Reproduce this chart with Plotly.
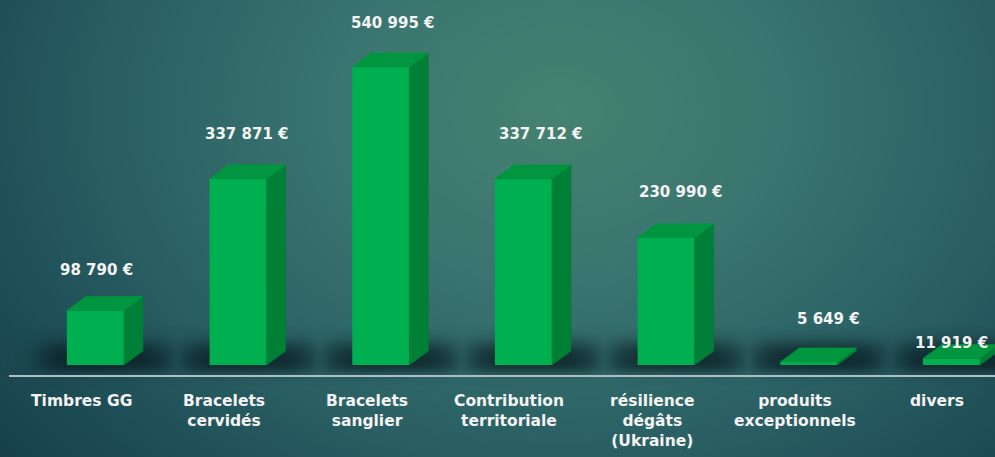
import numpy as np
import plotly.graph_objects as go

# ---------------- data ----------------
categories = ["Timbres GG", "Bracelets<br>cervidés", "Bracelets<br>sanglier",
              "Contribution<br>territoriale", "résilience<br>dégâts<br>(Ukraine)",
              "produits<br>exceptionnels", "divers"]
values = [98790, 337871, 540995, 337712, 230990, 5649, 11919]
value_labels = ["98 790 €", "337 871 €", "540 995 €", "337 712 €",
                "230 990 €", "5 649 €", "11 919 €"]

# ---------------- style ----------------
W, H = 995, 457
XR = [-0.669, 6.305]
YR = [-167000, 662500]
BAR_W = 0.40          # front face width (x units)
DX = 0.133            # depth offset, x units
DY = 25400            # depth offset, y units
FRONT = "#00b050"
SIDE = "#007f36"
TOP = "#00963f"
FONT = "DejaVu Sans"
LABEL_XSHIFT = [-8, -1, 3, 8, 5, 10, -9]
LABEL_YSHIFT = [41, 45, 44, 45, 46, 43, 15]


def px_x(p):
    return XR[0] + np.asarray(p) / W * (XR[1] - XR[0])


def px_y(p):
    return YR[1] - np.asarray(p) / H * (YR[1] - YR[0])


def x_px(x):
    return (np.asarray(x) - XR[0]) / (XR[1] - XR[0]) * W


def y_px(y):
    return (YR[1] - np.asarray(y)) / (YR[1] - YR[0]) * H


fig = go.Figure()

# ---- background radial gradient ----
gx = np.linspace(0, W, 120)
gy = np.linspace(H, 0, 60)
PX, PY = np.meshgrid(gx, gy)
zbg = np.sqrt(((PX - 560) / 560) ** 2 + ((PY - 110) / 430) ** 2)
fig.add_trace(go.Heatmap(
    x=px_x(gx), y=px_y(gy), z=zbg, zmin=0, zmax=1.3, zsmooth="best",
    colorscale=[[0, "#45826f"], [0.3, "#3a7570"], [0.6, "#2a6064"],
                [0.8, "#1f4f57"], [1, "#173f49"]],
    showscale=False, hoverinfo="skip"))

# ---- soft shadows under the bars ----
sx_ = np.arange(0, W + 1, 3.0)
sy_ = np.arange(385, 325, -2.0)
SX, SY = np.meshgrid(sx_, sy_)


def sig(t):
    return 1 / (1 + np.exp(-t))


alpha = np.zeros_like(SX)
base_px = float(y_px(0))
for i in range(len(values)):
    left = float(x_px(i - BAR_W / 2)) - 26
    right = float(x_px(i + BAR_W / 2 + DX)) + 26
    top = base_px - 22
    bot = base_px + 6
    a = (sig((SX - left) / 9) * sig((right - SX) / 9) *
         sig((SY - top) / 5) * sig((bot - SY) / 3))
    alpha = np.maximum(alpha, a)
fig.add_trace(go.Heatmap(
    x=px_x(sx_), y=px_y(sy_), z=alpha, zmin=0, zmax=1, zsmooth="best",
    colorscale=[[0, "rgba(6,22,28,0)"], [1, "rgba(6,22,28,0.75)"]],
    showscale=False, hoverinfo="skip"))

# ---- front faces ----
xs = list(range(len(values)))
fig.add_trace(go.Bar(x=xs, y=values, width=BAR_W,
                     marker=dict(color=FRONT, line=dict(width=0)),
                     hoverinfo="skip"))

# ---- side and top faces (computed from the values) ----
side_x, side_y, top_x, top_y = [], [], [], []
for i, v in enumerate(values):
    r = i + BAR_W / 2
    l = i - BAR_W / 2
    side_x += [r, r + DX, r + DX, r, r, None]
    side_y += [0, DY, v + DY, v, 0, None]
    top_x += [l, r, r + DX, l + DX, l, None]
    top_y += [v, v, v + DY, v + DY, v, None]
fig.add_trace(go.Scatter(x=side_x, y=side_y, mode="lines", fill="toself",
                         fillcolor=SIDE, line=dict(width=0.6, color=SIDE),
                         hoverinfo="skip"))
fig.add_trace(go.Scatter(x=top_x, y=top_y, mode="lines", fill="toself",
                         fillcolor=TOP, line=dict(width=0.6, color=TOP),
                         hoverinfo="skip"))

# ---- value labels ----
for i, (v, t) in enumerate(zip(values, value_labels)):
    fig.add_annotation(x=i + DX / 2, y=v, xref="x", yref="y", text=f"<b>{t}</b>",
                       showarrow=False, xanchor="center", yanchor="middle",
                       xshift=LABEL_XSHIFT[i], yshift=LABEL_YSHIFT[i],
                       font=dict(family=FONT, size=15, color="#f4f4f4"))

# ---- category labels ----
for i, c in enumerate(categories):
    fig.add_annotation(x=i, y=1 - 390 / H, xref="x", yref="paper",
                       text=f"<b>{c}</b>", showarrow=False, xanchor="center",
                       yanchor="top", xshift=-14, align="center",
                       font=dict(family=FONT, size=15.5, color="#f4f4f4"))

# ---- category axis line ----
fig.add_shape(type="line", xref="paper", yref="paper", x0=9 / W, x1=1,
              y0=1 - 376 / H, y1=1 - 376 / H,
              line=dict(color="#aebfc3", width=2))

fig.update_layout(
    width=W, height=H, autosize=False,
    margin=dict(l=0, r=0, t=0, b=0),
    paper_bgcolor="#1f4f57", plot_bgcolor="rgba(0,0,0,0)",
    showlegend=False,
    xaxis=dict(range=XR, domain=[0, 1], visible=False, fixedrange=True),
    yaxis=dict(range=YR, domain=[0, 1], visible=False, fixedrange=True),
)

fig.write_html("out.html", config={"displayModeBar": False},
               post_script="document.body.style.margin='0';"
                           "document.body.style.overflow='hidden';")
